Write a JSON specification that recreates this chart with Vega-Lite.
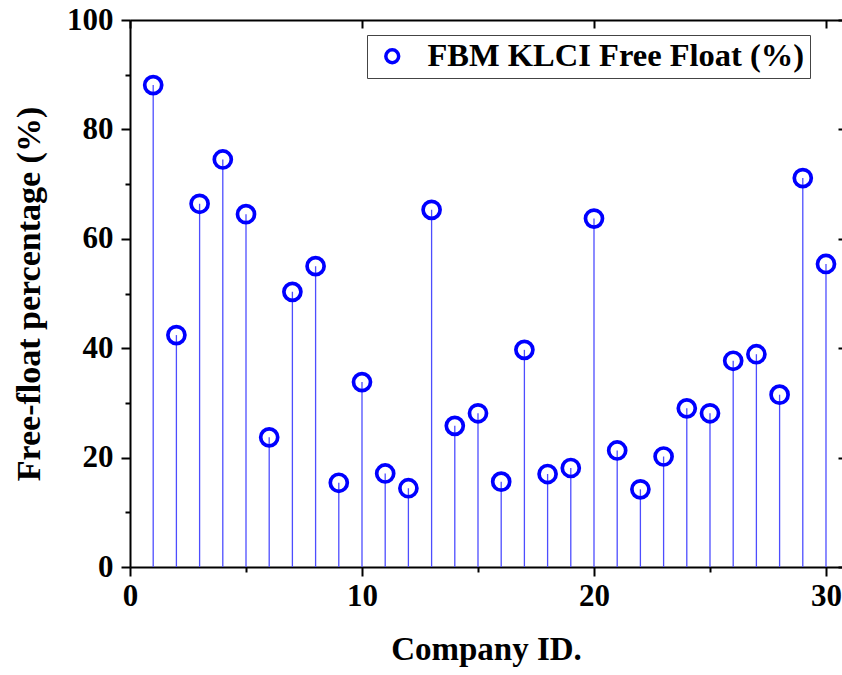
{
  "$schema": "https://vega.github.io/schema/vega-lite/v6.json",
  "autosize": "none",
  "padding": {"left": 130, "top": 20, "right": 0, "bottom": 108},
  "width": 712,
  "height": 547,
  "background": "white",
  "data": {
    "values": [
      {"id": 1, "pct": 88.1}, {"id": 2, "pct": 42.4}, {"id": 3, "pct": 66.4},
      {"id": 4, "pct": 74.5}, {"id": 5, "pct": 64.5}, {"id": 6, "pct": 23.7},
      {"id": 7, "pct": 50.3}, {"id": 8, "pct": 55.0}, {"id": 9, "pct": 15.4},
      {"id": 10, "pct": 33.8}, {"id": 11, "pct": 17.1}, {"id": 12, "pct": 14.4},
      {"id": 13, "pct": 65.3}, {"id": 14, "pct": 25.8}, {"id": 15, "pct": 28.1},
      {"id": 16, "pct": 15.6}, {"id": 17, "pct": 39.7}, {"id": 18, "pct": 17.0},
      {"id": 19, "pct": 18.1}, {"id": 20, "pct": 63.7}, {"id": 21, "pct": 21.3},
      {"id": 22, "pct": 14.2}, {"id": 23, "pct": 20.2}, {"id": 24, "pct": 29.0},
      {"id": 25, "pct": 28.1}, {"id": 26, "pct": 37.7}, {"id": 27, "pct": 38.9},
      {"id": 28, "pct": 31.5}, {"id": 29, "pct": 71.1}, {"id": 30, "pct": 55.4}
    ]
  },
  "config": {
    "view": {"stroke": null},
    "axis": {
      "grid": false,
      "labelFont": "Liberation Serif",
      "labelFontWeight": "bold",
      "labelFontSize": 31,
      "labelColor": "black",
      "titleFont": "Liberation Serif",
      "titleFontWeight": "bold",
      "titleFontSize": 33,
      "titleColor": "black",
      "domainColor": "black",
      "domainWidth": 2,
      "tickColor": "black",
      "tickWidth": 2
    }
  },
  "layer": [
    {
      "mark": {"type": "rule", "color": "#4d4dff", "strokeWidth": 1.3},
      "encoding": {
        "x": {
          "field": "id", "type": "quantitative",
          "scale": {"domain": [0, 30.69], "nice": false, "zero": false},
          "axis": {
            "orient": "bottom",
            "values": [0, 5, 10, 15, 20, 25, 30],
            "labelExpr": "datum.value % 10 === 0 ? datum.label : ''",
            "tickSize": {"condition": {"test": "datum.value % 10 === 0", "value": 9}, "value": 5},
            "labelPadding": 5,
            "labelFlush": false,
            "title": "Company ID.",
            "titlePadding": 22
          }
        },
        "y": {
          "field": "pct", "type": "quantitative",
          "scale": {"domain": [0, 100], "nice": false},
          "axis": {
            "orient": "left",
            "values": [0, 10, 20, 30, 40, 50, 60, 70, 80, 90, 100],
            "labelExpr": "datum.value % 20 === 0 ? datum.label : ''",
            "tickSize": {"condition": {"test": "datum.value % 20 === 0", "value": 9}, "value": 5},
            "labelPadding": 8,
            "labelFlush": false,
            "title": "Free-float percentage (%)",
            "titleFontSize": 34,
            "titlePadding": 20
          }
        },
        "y2": {"datum": 0}
      }
    },
    {
      "mark": {"type": "point", "shape": "circle", "filled": false, "strokeWidth": 3.7, "size": 290, "opacity": 1},
      "encoding": {
        "x": {
          "field": "id", "type": "quantitative",
          "axis": {"orient": "top", "values": [0, 10, 20, 30], "labels": false, "title": null, "tickSize": -8}
        },
        "y": {
          "field": "pct", "type": "quantitative",
          "axis": {"orient": "right", "values": [0, 20, 40, 60, 80, 100], "labels": false, "title": null, "tickSize": -4, "domain": false}
        },
        "color": {
          "datum": "FBM KLCI Free Float (%)",
          "type": "nominal",
          "scale": {"range": ["#0000ff"]},
          "legend": {
            "title": null,
            "orient": "none",
            "legendX": 237,
            "legendY": 15,
            "direction": "vertical",
            "symbolType": "circle",
            "symbolSize": 165,
            "symbolStrokeWidth": 3.5,
            "symbolFillColor": "white",
            "symbolOffset": 4,
            "labelFont": "Liberation Serif",
            "labelFontWeight": "bold",
            "labelFontSize": 32.5,
            "labelColor": "black",
            "labelOffset": 19,
            "labelLimit": 500,
            "padding": 5,
            "fillColor": "white",
            "strokeColor": "#444444",
            "encode": {"legend": {"update": {"strokeWidth": {"value": 1.5}}}}
          }
        }
      }
    }
  ],
  "resolve": {"axis": {"x": "independent", "y": "independent"}}
}
